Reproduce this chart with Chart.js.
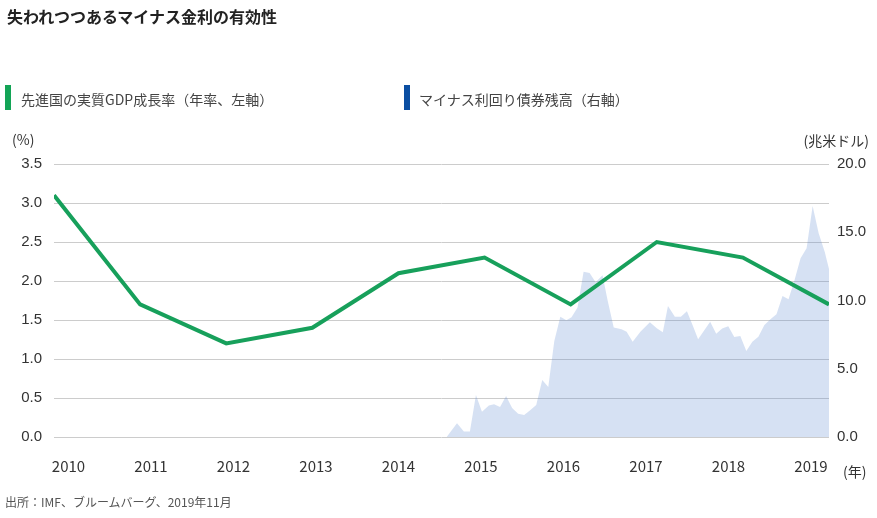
<!DOCTYPE html>
<html><head><meta charset="utf-8">
<script src="https://cdn.jsdelivr.net/npm/chart.js@4.4.0/dist/chart.umd.min.js"></script>
<style>
html,body{margin:0;padding:0;background:#fff;}
#wrap{position:relative;width:877px;height:518px;overflow:hidden;font-family:"Noto Sans CJK JP","Noto Sans",sans-serif;}
canvas{position:absolute;left:0;top:0;}
.t{position:absolute;white-space:nowrap;line-height:1;}
.bar{position:absolute;width:6px;height:25px;top:85px;}
</style></head><body>
<div id="wrap">
<canvas id="c" width="877" height="518" style="width:877px;height:518px"></canvas>
<div class="t" style="left:7px;top:8px;font-size:16px;font-weight:bold;color:#222">失われつつあるマイナス金利の有効性</div>
<div class="bar" style="left:5px;background:#13a456"></div>
<div class="t" style="left:21px;top:92px;font-size:14px;color:#444">先進国の実質GDP成長率（年率、左軸）</div>
<div class="bar" style="left:404px;background:#0b4ea2"></div>
<div class="t" style="left:419px;top:92px;font-size:14px;color:#444">マイナス利回り債券残高（右軸）</div>
<div class="t" style="left:12px;top:132px;font-size:14px;color:#333">(%)</div>
<div class="t" style="right:8px;top:133px;font-size:14px;color:#333">(兆米ドル)</div>
<div class="t" style="left:843px;top:464px;font-size:14px;color:#333">(年)</div>
<div class="t" style="left:5px;top:496px;font-size:12px;color:#555">出所：IMF、ブルームバーグ、2019年11月</div>
</div>
<script>
const years = [2010, 2011, 2012, 2013, 2014, 2015, 2016, 2017, 2018, 2019];
const gdpGrowth = [3.1, 1.7, 1.2, 1.4, 2.1, 2.3, 1.7, 2.5, 2.3, 1.7];
const negDebtX = [2014.56, 2014.68, 2014.76, 2014.83, 2014.90, 2014.97,
  2015.05, 2015.11, 2015.18, 2015.25, 2015.32, 2015.39, 2015.46, 2015.53, 2015.60, 2015.67, 2015.74, 2015.81, 2015.88, 2015.95,
  2016.01, 2016.08, 2016.15, 2016.22, 2016.29, 2016.37, 2016.43, 2016.50, 2016.59, 2016.65, 2016.72, 2016.81, 2016.92,
  2017.00, 2017.07, 2017.13, 2017.21, 2017.28, 2017.35, 2017.42, 2017.48, 2017.56, 2017.62, 2017.69, 2017.76, 2017.83, 2017.90, 2017.97,
  2018.04, 2018.11, 2018.18, 2018.25, 2018.32, 2018.39, 2018.46, 2018.53, 2018.60, 2018.67, 2018.74, 2018.81, 2018.88, 2018.95,
  2019.00];
const negDebtY = [0, 1.00, 0.40, 0.40, 3.08, 1.85,
  2.31, 2.40, 2.20, 3.00, 2.12, 1.71, 1.61, 1.96, 2.34, 4.18, 3.66, 7.03, 8.81, 8.55,
  8.78, 9.49, 12.11, 12.01, 11.34, 11.85, 9.98, 8.02, 7.90, 7.71, 6.98, 7.71, 8.41,
  7.96, 7.68, 9.60, 8.81, 8.81, 9.21, 8.13, 7.16, 7.89, 8.45, 7.57, 7.95, 8.11, 7.33, 7.40,
  6.30, 6.98, 7.35, 8.21, 8.62, 8.99, 10.33, 10.09, 11.50, 13.09, 13.82, 16.92, 14.92, 13.58,
  12.30];
const leftTicks = [0, 0.5, 1.0, 1.5, 2.0, 2.5, 3.0, 3.5];
const rightTicks = [0, 5, 10, 15, 20];

const numFont = {family: '"Liberation Sans", Arial, sans-serif', size: 15};

new Chart(document.getElementById('c'), {
  type: 'line',
  data: {
    datasets: [
      {
        label: '先進国の実質GDP成長率（年率、左軸）',
        data: years.map((y, i) => ({x: y, y: gdpGrowth[i]})),
        borderColor: '#17a05b',
        borderWidth: 4,
        pointRadius: 0,
        tension: 0,
        fill: false,
        xAxisID: 'x',
        yAxisID: 'y'
      },
      {
        label: 'マイナス利回り債券残高（右軸）',
        data: negDebtX.map((x, i) => ({x: x, y: negDebtY[i]})),
        borderColor: 'rgba(0,0,0,0)',
        borderWidth: 0,
        backgroundColor: 'rgba(91,135,208,0.25)',
        fill: 'origin',
        pointRadius: 0,
        tension: 0,
        xAxisID: 'x',
        yAxisID: 'y2'
      }
    ]
  },
  options: {
    responsive: false,
    animation: false,
    devicePixelRatio: 1,
    layout: {padding: {top: 164, left: 0, right: 0, bottom: 0}},
    plugins: {legend: {display: false}, tooltip: {enabled: false}},
    scales: {
      x: {type: 'linear', min: 2010, max: 2019, display: false},
      xl: {
        type: 'linear', position: 'bottom', min: 2009.824, max: 2019.218,
        grid: {display: false}, border: {display: false},
        afterBuildTicks: s => { s.ticks = years.map(v => ({value: v})); },
        afterFit: s => { s.height = 81; },
        ticks: {
          autoSkip: false, maxRotation: 0, padding: 12, color: '#333',
          font: {family: '"Noto Sans CJK JP", sans-serif', size: 15},
          callback: v => String(v)
        }
      },
      y: {
        position: 'left', min: 0, max: 3.5,
        afterBuildTicks: s => { s.ticks = leftTicks.map(v => ({value: v})); },
        afterFit: s => { s.width = 54; },
        grid: {color: '#cccccc', lineWidth: 1, drawTicks: false},
        border: {display: false},
        ticks: {padding: 12, color: '#333', font: numFont, callback: v => Number(v).toFixed(1)}
      },
      y2: {
        position: 'right', min: 0, max: 20,
        afterBuildTicks: s => { s.ticks = rightTicks.map(v => ({value: v})); },
        afterFit: s => { s.width = 48; },
        grid: {display: false, drawTicks: false},
        border: {display: false},
        ticks: {padding: 8, color: '#333', font: numFont, callback: v => Number(v).toFixed(1)}
      }
    }
  }
});
</script>
</body></html>
